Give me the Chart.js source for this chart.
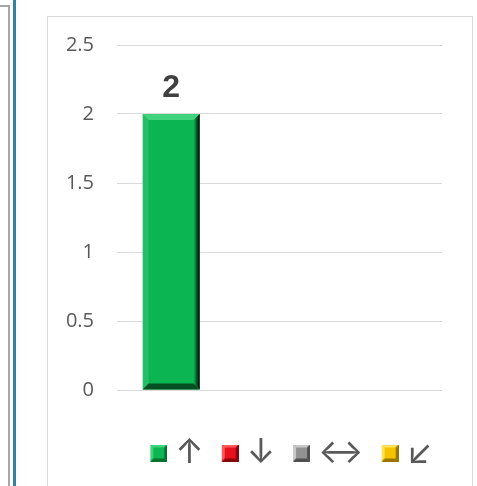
<!DOCTYPE html>
<html>
<head>
<meta charset="utf-8">
<script src="https://cdn.jsdelivr.net/npm/chart.js@4.4.1/dist/chart.umd.min.js"></script>
<style>
  html, body { margin: 0; padding: 0; background: #fff; }
  body { width: 477px; height: 486px; position: relative; overflow: hidden; }
  .side-box { position: absolute; left: -10px; top: 5px; width: 16px; height: 500px; border: 2px solid #a6a6a6; }
  .side-rule { position: absolute; left: 13px; top: 0; width: 3px; height: 486px; background: #31849b; }
  .chart-box { position: absolute; left: 47px; top: 16px; width: 424px; height: 490px; border: 1px solid #d9d9d9; }
  #chart { position: absolute; left: 0; top: 0; }
</style>
</head>
<body>
<div class="side-box"></div>
<div class="side-rule"></div>
<div class="chart-box"></div>
<canvas id="chart" width="477" height="486"></canvas>
<script>
// chart data
const categories = ['', '', ''];
const seriesNames = ['↑', '↓', '↔', '↙'];
const upValues = [2, 0, 0];
const downValues = [0, 0, 0];
const sameValues = [0, 0, 0];
const diagValues = [0, 0, 0];
const yTicks = [0, 0.5, 1, 1.5, 2, 2.5];

// colours for each series: face, light bevel, dark bevel
const palette = [
    { face: '#0bb552', light: '#3fd47c', dark: '#07702f' },
    { face: '#e8101c', light: '#ff5a5f', dark: '#8a050b' },
    { face: '#929292', light: '#c8c8c8', dark: '#505050' },
    { face: '#f5c400', light: '#ffe35a', dark: '#9a7400' }
];

// small bevelled square used as the legend marker
// the canvas is wider than the square so the square sits close to its label
function makeSwatch(colors) {
    const size = 17, b = 3, shift = 18;
    const c = document.createElement('canvas');
    c.width = size + shift; c.height = size;
    const g = c.getContext('2d');
    g.translate(shift, 0);
    g.fillStyle = colors.face;
    g.fillRect(0, 0, size, size);
    const poly = (pts, fill) => {
        g.beginPath();
        g.moveTo(pts[0][0], pts[0][1]);
        pts.slice(1).forEach(p => g.lineTo(p[0], p[1]));
        g.closePath();
        g.fillStyle = fill;
        g.fill();
    };
    poly([[0, 0], [size, 0], [size - b, b], [b, b]], colors.light);
    poly([[0, 0], [b, b], [b, size - b], [0, size]], colors.light);
    poly([[size, 0], [size, size], [size - b, size - b], [size - b, b]], colors.dark);
    poly([[0, size], [b, size - b], [size - b, size - b], [size, size]], colors.dark);
    return c;
}
const swatches = palette.map(makeSwatch);

// bevel on the bars, drawn from the bar elements the library laid out
const bevelPlugin = {
    id: 'bevel',
    afterDatasetsDraw(chart) {
        const ctx = chart.ctx;
        chart.data.datasets.forEach((ds, i) => {
            const meta = chart.getDatasetMeta(i);
            const colors = palette[i];
            meta.data.forEach(bar => {
                const h = Math.abs(bar.base - bar.y);
                if (h < 1) return;
                const l = bar.x - bar.width / 2, r = bar.x + bar.width / 2;
                const t = Math.min(bar.y, bar.base), btm = Math.max(bar.y, bar.base);
                const b = 6;
                const poly = (pts, fill) => {
                    ctx.beginPath();
                    ctx.moveTo(pts[0][0], pts[0][1]);
                    pts.slice(1).forEach(p => ctx.lineTo(p[0], p[1]));
                    ctx.closePath();
                    ctx.fillStyle = fill;
                    ctx.fill();
                };
                ctx.save();
                poly([[l, t], [r, t], [r - b, t + b], [l + b, t + b]], colors.light);
                poly([[l, t], [l + b, t + b], [l + b, btm - b], [l, btm]], 'rgba(255,255,255,0.12)');
                const grad = ctx.createLinearGradient(r - b, 0, r, 0);
                grad.addColorStop(0, colors.face);
                grad.addColorStop(1, '#000');
                poly([[r, t], [r, btm], [r - b, btm - b], [r - b, t + b]], grad);
                poly([[l, btm], [l + b, btm - b], [r - b, btm - b], [r, btm]], '#064f22');
                ctx.restore();
            });
        });
    }
};

// value label above non-zero bars
const valueLabelPlugin = {
    id: 'valueLabel',
    afterDatasetsDraw(chart) {
        const ctx = chart.ctx;
        ctx.save();
        ctx.font = 'bold 32px "Liberation Sans", Arial, sans-serif';
        ctx.fillStyle = '#404040';
        ctx.textAlign = 'center';
        ctx.textBaseline = 'alphabetic';
        chart.data.datasets.forEach((ds, i) => {
            chart.getDatasetMeta(i).data.forEach((bar, j) => {
                const v = ds.data[j];
                if (!v) return;
                ctx.fillText(String(v), bar.x, bar.y - 17);
            });
        });
        ctx.restore();
    }
};

const seriesValues = [upValues, downValues, sameValues, diagValues];

new Chart(document.getElementById('chart').getContext('2d'), {
    type: 'bar',
    data: {
        labels: categories,
        datasets: seriesValues.map((vals, i) => ({
            label: seriesNames[i],
            data: vals,
            backgroundColor: palette[i].face,
            borderWidth: 0,
            categoryPercentage: 1,
            barPercentage: 0.526
        }))
    },
    options: {
        responsive: false,
        animation: false,
        layout: { padding: { left: 47, right: 35, top: 45, bottom: 6 } },
        scales: {
            x: {
                stacked: true,
                grid: { display: false },
                border: { display: false },
                ticks: { display: false },
                afterFit: s => { s.height = 37; }
            },
            y: {
                stacked: true,
                min: 0,
                max: 2.5,
                afterBuildTicks: s => { s.ticks = yTicks.map(v => ({ value: v })); },
                afterFit: s => { s.width = 70; },
                grid: { color: '#d9d9d9', drawTicks: false },
                border: { display: false },
                ticks: {
                    padding: 23,
                    color: '#595959',
                    font: { family: '"Open Sans", sans-serif', size: 20 },
                    callback: v => String(v)
                }
            }
        },
        plugins: {
            tooltip: { enabled: false },
            legend: {
                position: 'bottom',
                align: 'end',
                labels: {
                    usePointStyle: true,
                    boxWidth: 17,
                    boxHeight: 17,
                    padding: 9,
                    color: '#595959',
                    font: { family: 'Inter, "DejaVu Sans", sans-serif', size: 34 },
                    generateLabels: chart => chart.data.datasets.map((ds, i) => ({
                        text: ds.label,
                        pointStyle: swatches[i],
                        fillStyle: palette[i].face,
                        strokeStyle: palette[i].face,
                        lineWidth: 0,
                        fontColor: '#595959',
                        datasetIndex: i
                    }))
                }
            }
        }
    },
    plugins: [bevelPlugin, valueLabelPlugin]
});
</script>
</body>
</html>
